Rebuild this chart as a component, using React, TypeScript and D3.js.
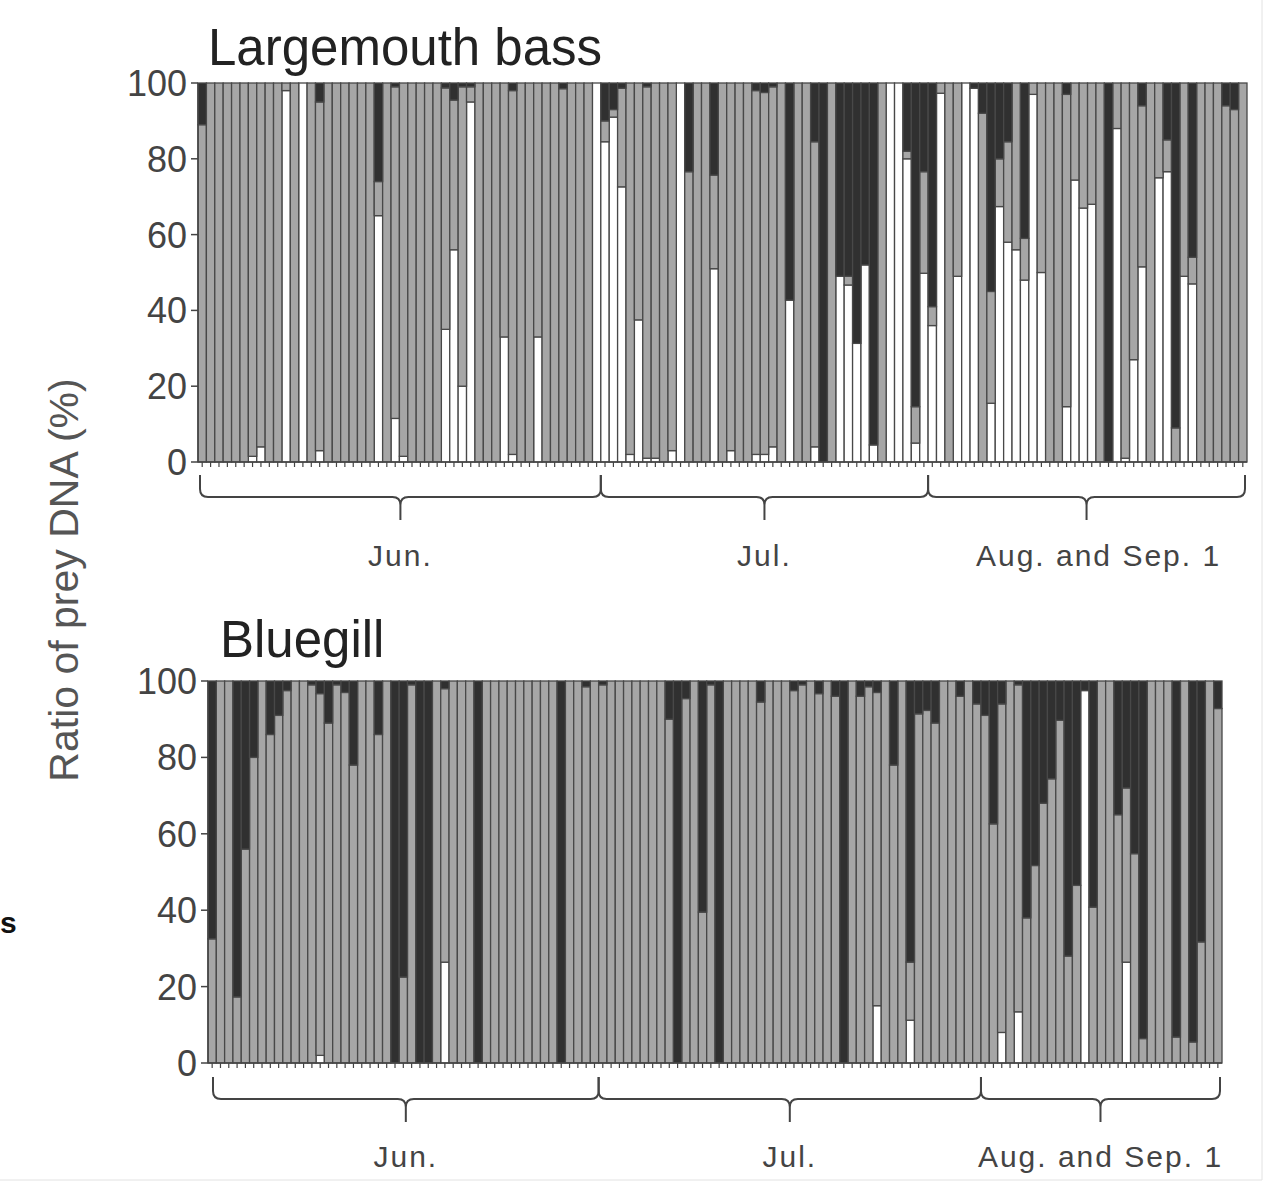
import React from "react";
import * as d3 from "d3";

const W = 1273;
const H = 1185;
const FONT = "'Liberation Sans', Arial, sans-serif";

// ---- Largemouth bass (125 fish) ----
const bassWhite = [
  0, 0, 0, 0, 0, 0, 1.5, 4, 0, 0,
  98, 0, 100, 0, 3, 0, 0, 0, 0, 0,
  0, 65, 0, 11.5, 1.5, 0, 0, 0, 0, 35,
  56, 20, 95, 0, 0, 0, 33, 2, 0, 0,
  33, 0, 0, 0, 0, 0, 0, 100, 84.5, 91,
  72.6, 2, 37.5, 1, 1, 0, 3, 100, 0, 0,
  0, 51, 0, 3, 0, 0, 2, 2, 4, 0,
  42.7, 0, 0, 4, 0, 0, 49, 46.7, 31.3, 52,
  4.5, 0, 100, 100, 80, 5, 49.8, 36, 97.3, 0,
  49, 100, 98.6, 0, 15.5, 67.4, 58, 56, 48, 97,
  50, 0, 0, 14.6, 74.4, 67, 68, 0, 0, 88,
  1, 27, 51.5, 0, 75, 76.6, 0, 49, 47, 0,
  0, 0, 0, 0, 0,
];
const bassGray = [
  89, 100, 100, 100, 100, 100, 98.5, 96, 100, 100,
  2, 100, 0, 100, 92, 100, 100, 100, 100, 100,
  100, 9, 100, 87.5, 98.5, 100, 100, 100, 100, 63.7,
  39.5, 79, 4, 100, 100, 100, 67, 96, 100, 100,
  67, 100, 100, 98.5, 100, 100, 100, 0, 5.5, 2,
  26, 98, 62.5, 98, 99, 100, 97, 0, 76.6, 100,
  100, 24.7, 100, 97, 100, 100, 96, 95.5, 95, 100,
  0, 100, 100, 80.5, 0, 100, 0, 2.3, 0, 0,
  0, 100, 0, 0, 2, 9.6, 26.8, 5, 2.7, 100,
  51, 0, 0, 92, 29.5, 12.6, 26.5, 44, 11, 3,
  50, 100, 100, 82.4, 25.6, 33, 32, 100, 0, 12,
  99, 73, 42.5, 100, 25, 8.4, 9, 51, 7, 100,
  100, 100, 94, 93, 100,
];
const bassBlack = [
  11, 0, 0, 0, 0, 0, 0, 0, 0, 0,
  0, 0, 0, 0, 5, 0, 0, 0, 0, 0,
  0, 26, 0, 1, 0, 0, 0, 0, 0, 1.3,
  4.5, 1, 1, 0, 0, 0, 0, 2, 0, 0,
  0, 0, 0, 1.5, 0, 0, 0, 0, 10, 7,
  1.4, 0, 0, 1, 0, 0, 0, 0, 23.4, 0,
  0, 24.3, 0, 0, 0, 0, 2, 2.5, 1, 0,
  57.3, 0, 0, 15.5, 100, 0, 51, 51, 68.7, 48,
  95.5, 0, 0, 0, 18, 85.4, 23.4, 59, 0, 0,
  0, 0, 1.4, 8, 55, 20, 15.5, 0, 41, 0,
  0, 0, 0, 3, 0, 0, 0, 0, 100, 0,
  0, 0, 6, 0, 0, 15, 91, 0, 46, 0,
  0, 0, 6, 7, 0,
];
const bassMonthStart = [0, 48, 87];

// ---- Bluegill (122 fish) ----
const gillWhite = [
  0, 0, 0, 0, 0, 0, 0, 0, 0, 0,
  0, 0, 0, 2, 0, 0, 0, 0, 0, 0,
  0, 0, 0, 0, 0, 0, 0, 0, 26.4, 0,
  0, 0, 0, 0, 0, 0, 0, 0, 0, 0,
  0, 0, 0, 0, 0, 0, 0, 0, 0, 0,
  0, 0, 0, 0, 0, 0, 0, 0, 0, 0,
  0, 0, 0, 0, 0, 0, 0, 0, 0, 0,
  0, 0, 0, 0, 0, 0, 0, 0, 0, 0,
  15, 0, 0, 0, 11.2, 0, 0, 0, 0, 0,
  0, 0, 0, 0, 0, 8, 0, 13.4, 0, 0,
  0, 0, 0, 0, 0, 97.5, 0, 0, 0, 0,
  26.4, 0, 0, 0, 0, 0, 0, 0, 0, 0,
  0, 0,
];
const gillGray = [
  32.5, 100, 100, 17.3, 56, 80, 100, 86, 91, 97.5,
  100, 100, 99, 94.7, 89, 99, 97, 78, 100, 100,
  86, 100, 0, 22.5, 99, 0, 0, 100, 71.6, 100,
  100, 100, 0, 100, 100, 100, 100, 100, 100, 100,
  100, 100, 0, 100, 100, 98.5, 100, 99, 100, 100,
  100, 100, 100, 100, 100, 90, 0, 95.4, 100, 39.5,
  99, 0, 100, 100, 100, 100, 94.5, 100, 100, 100,
  97.5, 99, 100, 96.7, 100, 96, 0, 100, 96, 98.5,
  82, 100, 78, 100, 15.2, 91.4, 92.3, 89, 100, 100,
  96, 100, 94, 91, 62.6, 86, 100, 85.6, 38, 51.7,
  68, 74.4, 89.7, 28, 46.5, 0, 40.8, 100, 100, 65,
  45.6, 54.8, 6.4, 100, 100, 100, 6.8, 100, 5.5, 31.7,
  100, 92.8,
];
const gillBlack = [
  67.5, 0, 0, 82.7, 44, 20, 0, 14, 9, 2.5,
  0, 0, 1, 3.3, 11, 1, 3, 22, 0, 0,
  14, 0, 100, 77.5, 1, 100, 100, 0, 2, 0,
  0, 0, 100, 0, 0, 0, 0, 0, 0, 0,
  0, 0, 100, 0, 0, 1.5, 0, 1, 0, 0,
  0, 0, 0, 0, 0, 10, 100, 4.6, 0, 60.5,
  1, 100, 0, 0, 0, 0, 5.5, 0, 0, 0,
  2.5, 1, 0, 3.3, 0, 4, 100, 0, 4, 1.5,
  3, 0, 22, 0, 73.6, 8.6, 7.7, 11, 0, 0,
  4, 0, 6, 9, 37.4, 6, 0, 1, 62, 48.3,
  32, 25.6, 10.3, 72, 53.5, 2.5, 59.2, 0, 0, 35,
  28, 45.2, 93.6, 0, 0, 0, 93.2, 0, 94.5, 68.3,
  0, 7.2,
];
const gillMonthStart = [0, 47, 93];

const monthLabels = ["Jun.", "Jul.", "Aug. and Sep. 1"];
const yTicks = [0, 20, 40, 60, 80, 100];
const keys = ["white", "gray", "black"];
const fills: Record<string, string> = { white: "#ffffff", gray: "#a6a6a6", black: "#303030" };

function bracePath(x0: number, x1: number, yTop: number, yMid: number, yTip: number) {
  const r = 8;
  const xm = (x0 + x1) / 2;
  return (
    `M${x0},${yTop} L${x0},${yMid - r} Q${x0},${yMid} ${x0 + r},${yMid} ` +
    `L${xm - r},${yMid} Q${xm},${yMid} ${xm},${yMid + r} L${xm},${yTip} ` +
    `M${xm},${yMid + r} Q${xm},${yMid} ${xm + r},${yMid} ` +
    `L${x1 - r},${yMid} Q${x1},${yMid} ${x1},${yMid - r} L${x1},${yTop}`
  );
}

function Panel(props: any) {
  const { title, white, gray, black, monthStart, x0, x1, y0, y1, titleX, titleY,
    braceInset, braceTop, braceMid, braceTip, labelY, lastLabelShift } = props;
  const rows = white.map((w: number, i: number) => ({ white: w, gray: gray[i], black: black[i] }));
  const series = d3.stack<any>().keys(keys)(rows);
  const x = d3.scaleBand<number>().domain(d3.range(rows.length)).range([x0, x1]).padding(0);
  const y = d3.scaleLinear().domain([0, 100]).range([y0, y1]);
  const bw = x.bandwidth();
  const bounds = monthStart.map((s: number, i: number) => [
    i === 0 ? x0 + braceInset : (x(s) as number),
    i === monthStart.length - 1 ? x1 - 2 : (x(monthStart[i + 1]) as number),
  ]);

  return (
    <g>
      <text x={titleX} y={titleY} fontSize={51} fill="#222" fontFamily={FONT}>{title}</text>
      {series.map((s) => (
        <g key={s.key}>
          {s.map((d, i) => {
            const h = y(d[0]) - y(d[1]);
            if (h <= 0) return null;
            return (
              <rect key={i} x={x(i)} y={y(d[1])} width={bw} height={h}
                fill={fills[s.key]} stroke="#484848" strokeWidth={1.3} />
            );
          })}
        </g>
      ))}
      <line x1={x0} x2={x0} y1={y(0)} y2={y(100)} stroke="#444" strokeWidth={1.5} />
      <line x1={x0} x2={x1} y1={y(0)} y2={y(0)} stroke="#444" strokeWidth={1.5} />
      {yTicks.map((t) => (
        <g key={t}>
          <line x1={x0 - 7} x2={x0} y1={y(t)} y2={y(t)} stroke="#444" strokeWidth={1.5} />
          <text x={x0 - 11} y={y(t)} dy="0.36em" textAnchor="end" fontSize={36}
            fill="#444" fontFamily={FONT}>{t}</text>
        </g>
      ))}
      {rows.map((_: any, i: number) => (
        <line key={i} x1={(x(i) as number) + bw / 2} x2={(x(i) as number) + bw / 2}
          y1={y(0)} y2={y(0) + 5} stroke="#444" strokeWidth={1.2} />
      ))}
      {bounds.map((b: number[], i: number) => (
        <g key={i}>
          <path d={bracePath(b[0], b[1], braceTop, braceMid, braceTip)} fill="none"
            stroke="#444" strokeWidth={2} />
          <text x={(b[0] + b[1]) / 2 + (i === bounds.length - 1 ? lastLabelShift : 0)} y={labelY}
            textAnchor="middle" fontSize={30} letterSpacing={2} fill="#444"
            fontFamily={FONT}>{monthLabels[i]}</text>
        </g>
      ))}
    </g>
  );
}

export default function App() {
  return (
    <svg width={W} height={H} style={{ position: "absolute", left: 0, top: 0, background: "#fff" }}>
      <rect x={0} y={0} width={W} height={H} fill="#fff" />
      <Panel title="Largemouth bass" white={bassWhite} gray={bassGray} black={bassBlack}
        monthStart={bassMonthStart} x0={198} x1={1247} y0={462} y1={83}
        titleX={208} titleY={65} braceInset={2} braceTop={475} braceMid={497}
        braceTip={520} labelY={566} lastLabelShift={12} />
      <Panel title="Bluegill" white={gillWhite} gray={gillGray} black={gillBlack}
        monthStart={gillMonthStart} x0={208} x1={1222} y0={1063} y1={681}
        titleX={220} titleY={657} braceInset={5} braceTop={1077} braceMid={1099}
        braceTip={1122} labelY={1167} lastLabelShift={0} />
      <text transform="translate(78,580) rotate(-90)" textAnchor="middle" fontSize={41}
        fill="#555" fontFamily={FONT}>Ratio of prey DNA (%)</text>
      <text x={0} y={933} fontSize={30} fontWeight="bold" fill="#111" fontFamily={FONT}>s</text>
      <line x1={1262} x2={1262} y1={0} y2={1180} stroke="#e2e2e2" strokeWidth={1} />
      <line x1={0} x2={1262} y1={1180} y2={1180} stroke="#e2e2e2" strokeWidth={1} />
    </svg>
  );
}
